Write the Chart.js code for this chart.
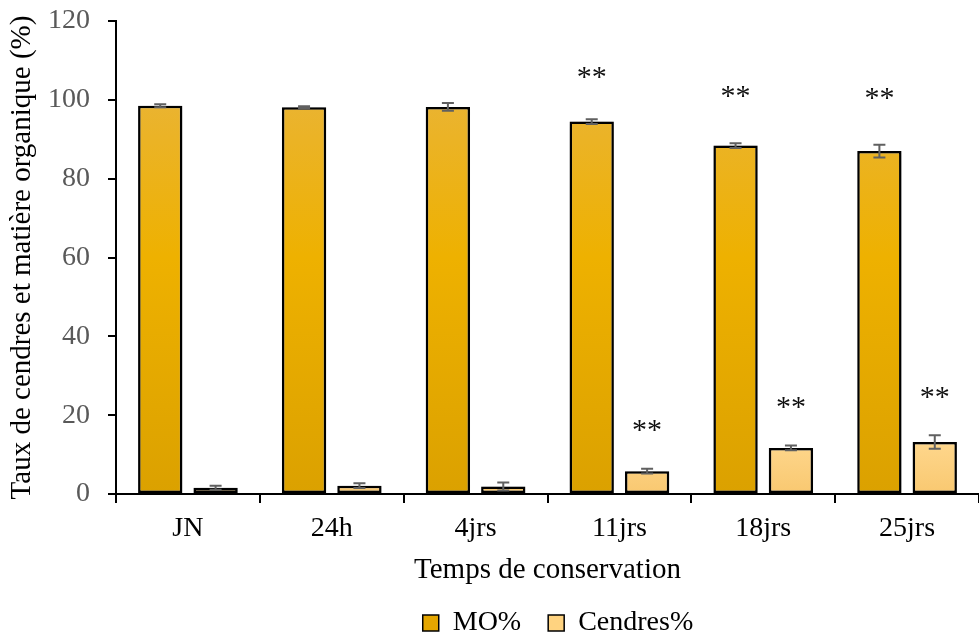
<!DOCTYPE html>
<html>
<head>
<meta charset="utf-8">
<script src="https://cdn.jsdelivr.net/npm/chart.js@4.4.1/dist/chart.umd.min.js"></script>
<style>
  body { margin: 0; background: #fff; }
  #chart { display: block; }
</style>
</head>
<body>
<canvas id="chart" width="979" height="634"></canvas>
<script>
const categories = ['JN', '24h', '4jrs', '11jrs', '18jrs', '25jrs'];
const moValues = [98.5, 98.1, 98.2, 94.5, 88.4, 87.0];
const moErrors = [0.4, 0.3, 1.0, 0.6, 0.6, 1.6];
const cendresValues = [1.6, 2.1, 1.9, 5.8, 11.7, 13.2];
const cendresErrors = [0.5, 0.6, 1.0, 0.6, 0.6, 1.7];
// height (in %) where the significance marks sit
const moStars = [null, null, null, 106.3, 101.4, 100.9];
const cendresStars = [null, null, null, 16.8, 22.6, 25.0];
const yTicks = [0, 20, 40, 60, 80, 100, 120];

const serif = 'Liberation Serif';
Chart.defaults.font.family = serif;

function moGradient(ctx) {
    const area = ctx.chart.chartArea;
    if (!area) return '#e8ae10';
    const g = ctx.chart.ctx.createLinearGradient(0, area.top, 0, area.bottom);
    g.addColorStop(0, '#e8b54a');
    g.addColorStop(0.5, '#eeb100');
    g.addColorStop(1, '#dba100');
    return g;
}

function cendresGradient(ctx) {
    const area = ctx.chart.chartArea;
    if (!area) return '#ffd58a';
    const g = ctx.chart.ctx.createLinearGradient(0, area.bottom - 60, 0, area.bottom);
    g.addColorStop(0, '#ffd991');
    g.addColorStop(1, '#f9c870');
    return g;
}

const errorSets = [moErrors, cendresErrors];
const starSets = [moStars, cendresStars];

const barExtras = {
    id: 'barExtras',
    afterLayout(chart) {
        // legend sits centred under the plot rather than the whole canvas
        const lg = chart.legend;
        lg.left = 137;
        lg.right = chart.width;
    },
    beforeDatasetsDraw(chart) {
        const c = chart.ctx;
        c.save();
        c.shadowColor = 'rgba(0,0,0,0.3)';
        c.shadowBlur = 8;
    },
    afterDatasetsDraw(chart) {
        const c = chart.ctx;
        c.restore();
        const y = chart.scales.y;
        c.save();
        chart.data.datasets.forEach((ds, di) => {
            const meta = chart.getDatasetMeta(di);
            meta.data.forEach((bar, i) => {
                const v = ds.data[i];
                const e = errorSets[di][i];
                const top = y.getPixelForValue(v + e);
                const bot = y.getPixelForValue(v - e);
                c.strokeStyle = '#606060';
                c.lineWidth = 2;
                c.beginPath();
                c.moveTo(bar.x, top);
                c.lineTo(bar.x, bot);
                c.moveTo(bar.x - 6, top);
                c.lineTo(bar.x + 6, top);
                c.moveTo(bar.x - 6, bot);
                c.lineTo(bar.x + 6, bot);
                c.stroke();

                const s = starSets[di][i];
                if (s != null) {
                    c.fillStyle = '#111';
                    c.font = '30px ' + serif;
                    c.textAlign = 'center';
                    c.textBaseline = 'alphabetic';
                    c.fillText('**', bar.x, y.getPixelForValue(s) + 11);
                }
            });
        });
        c.restore();
    }
};

new Chart(document.getElementById('chart'), {
    type: 'bar',
    data: {
        labels: categories,
        datasets: [{
            label: 'MO%',
            data: moValues,
            backgroundColor: moGradient,
            borderColor: '#000',
            borderWidth: 2.5,
            borderSkipped: false,
            categoryPercentage: 0.77,
            barPercentage: 0.8
        }, {
            label: 'Cendres%',
            data: cendresValues,
            backgroundColor: cendresGradient,
            borderColor: '#000',
            borderWidth: 2.5,
            borderSkipped: false,
            categoryPercentage: 0.77,
            barPercentage: 0.8
        }]
    },
    options: {
        responsive: false,
        animation: false,
        layout: { padding: { top: 21, right: 0, left: 0, bottom: -13 } },
        plugins: {
            tooltip: { enabled: false },
            legend: {
                position: 'bottom',
                labels: {
                    font: { size: 28, family: serif },
                    color: '#000',
                    boxWidth: 16,
                    boxHeight: 16,
                    padding: 27,
                    generateLabels: () => [
                        { text: 'MO%', fillStyle: '#e4a600', strokeStyle: '#000', lineWidth: 1.5, datasetIndex: 0 },
                        { text: 'Cendres%', fillStyle: '#ffd380', strokeStyle: '#000', lineWidth: 1.5, datasetIndex: 1 }
                    ]
                }
            }
        },
        scales: {
            x: {
                afterFit: (scale) => {
                    scale.height = 88;
                    scale.paddingLeft = 0;
                    scale.paddingRight = 0;
                },
                grid: { display: true, drawOnChartArea: false, drawTicks: true, tickLength: 9, color: '#000', lineWidth: 2, offset: true },
                border: { color: '#000', width: 2 },
                ticks: { color: '#000', font: { size: 28 }, padding: 9 },
                title: { display: true, text: 'Temps de conservation', color: '#000', font: { size: 29 }, padding: { top: 6, bottom: -6 } }
            },
            y: {
                min: 0,
                max: 120,
                afterBuildTicks: (scale) => { scale.ticks = yTicks.map(v => ({ value: v })); },
                afterFit: (scale) => {
                    scale.width = 116;
                    scale.paddingTop = 0;
                    scale.paddingBottom = 0;
                },
                grid: { display: true, drawOnChartArea: false, drawTicks: true, tickLength: 8, color: '#000', lineWidth: 2 },
                border: { color: '#000', width: 2 },
                ticks: { color: '#595959', font: { size: 28 }, padding: 18 },
                title: { display: true, text: 'Taux de cendres et matière organique (%)', color: '#000', font: { size: 29 }, padding: { top: 5, bottom: 0 } }
            }
        }
    },
    plugins: [barExtras]
});
</script>
</body>
</html>
